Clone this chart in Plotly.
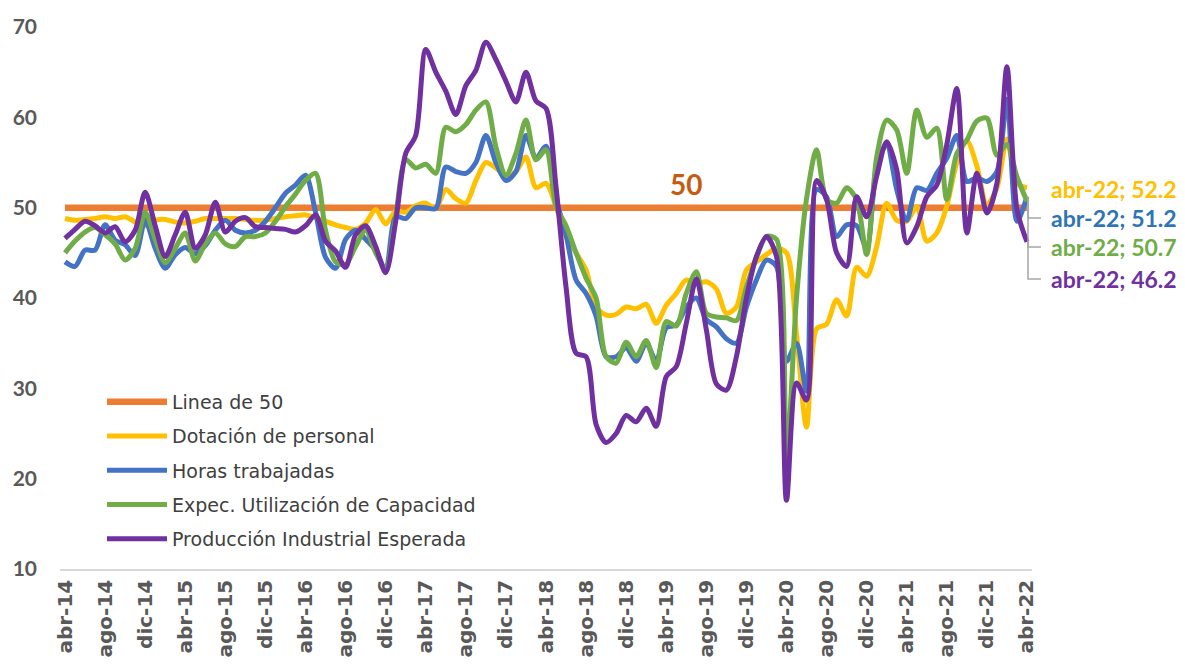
import plotly.graph_objects as go

# ---------------- data ----------------
month_abbr = ["abr", "may", "jun", "jul", "ago", "sep", "oct", "nov", "dic", "ene", "feb", "mar"]
months = []
for k in range(97):
    m = month_abbr[k % 12]
    yr = 14 + (k + 3) // 12
    months.append(f"{m}-{yr:02d}")

tick_labels = ["abr-14", "ago-14", "dic-14", "abr-15", "ago-15", "dic-15", "abr-16", "ago-16",
               "dic-16", "abr-17", "ago-17", "dic-17", "abr-18", "ago-18", "dic-18", "abr-19",
               "ago-19", "dic-19", "abr-20", "ago-20", "dic-20", "abr-21", "ago-21", "dic-21",
               "abr-22"]

linea_50 = [50] * 97

dotacion = [48.8, 48.6, 48.7, 48.8, 49.0, 48.8, 49.0, 48.4, 48.0, 48.6, 48.7, 48.4, 48.3,
            48.5, 48.8, 48.8, 48.8, 48.8, 48.7, 48.6, 48.6, 48.8, 49.0, 49.1, 49.2, 48.9,
            48.5, 48.1, 47.8, 47.6, 48.3, 49.8, 48.2, 49.6, 49.5, 50.2, 50.5, 49.9, 52.0,
            51.0, 50.5, 53.0, 55.0, 54.4, 53.5, 54.0, 55.6, 52.2, 52.7, 50.1, 46.8, 45.0,
            43.1, 39.0, 38.1, 38.2, 39.0, 38.8, 39.3, 37.2, 39.2, 40.5, 42.0, 41.6, 41.8,
            41.0, 38.3, 39.0, 43.1, 44.0, 44.8, 45.5, 45.0, 36.0, 25.7, 36.6, 37.1, 39.8,
            38.0, 43.4, 42.4, 45.7, 50.5, 48.6, 48.5, 50.1, 46.3, 47.2, 50.2, 55.0, 57.4,
            54.6, 50.3, 52.2, 57.6, 52.7, 52.2]

horas = [44.0, 43.5, 45.3, 45.3, 48.1, 46.4, 45.9, 44.7, 48.6, 45.5, 43.3, 44.8, 45.6,
         44.9, 45.8, 47.5, 48.6, 47.5, 47.2, 47.5, 48.5, 50.0, 51.6, 52.5, 53.6, 49.5,
         44.5, 43.3, 46.5, 47.5, 46.5, 45.3, 43.1, 49.0, 48.8, 50.0, 50.0, 49.9, 54.5,
         54.0, 53.8, 55.0, 58.0, 55.0, 53.0, 54.0, 58.0, 55.5, 56.8, 51.0, 47.0, 42.0,
         40.5, 38.0, 33.5, 33.5, 34.5, 33.0, 35.0, 33.0, 36.7, 37.0, 39.0, 40.0, 37.6,
         36.8, 35.5, 35.0, 39.0, 42.0, 44.2, 43.5, 33.0, 35.0, 29.7, 52.0, 51.2, 46.8,
         48.1, 48.0, 45.5, 54.5, 57.0, 52.0, 48.6, 52.2, 51.9, 53.8, 55.5, 58.0, 52.9,
         53.3, 52.9, 54.0, 62.0, 48.5, 51.2]

utilizacion = [45.0, 46.3, 47.3, 47.8, 47.0, 46.0, 44.2, 45.5, 49.5, 46.5, 43.9, 45.5, 47.2,
               44.1, 46.0, 47.2, 46.0, 45.7, 46.8, 46.8, 47.2, 48.5, 50.1, 51.5, 53.0, 53.8,
               47.5, 44.0, 43.7, 45.7, 47.5, 45.0, 43.3, 49.0, 55.3, 54.4, 54.8, 53.8, 58.9,
               58.4, 59.2, 60.8, 61.7, 56.7, 53.6, 56.0, 59.7, 55.3, 56.4, 50.1, 48.0, 45.0,
               42.2, 40.0, 33.5, 32.8, 35.1, 33.5, 35.3, 32.3, 37.4, 36.9, 40.5, 42.9, 38.3,
               37.9, 37.8, 37.5, 41.2, 44.5, 46.8, 46.5, 22.4, 40.0, 51.0, 56.4, 50.9, 50.5,
               52.2, 50.9, 44.8, 55.6, 59.7, 58.6, 53.8, 60.8, 57.8, 58.8, 50.9, 56.0, 57.5,
               59.6, 59.9, 55.8, 57.0, 53.4, 50.7]

produccion = [46.6, 47.6, 48.5, 48.0, 47.2, 47.9, 46.2, 47.5, 51.7, 48.0, 44.6, 47.0, 49.5,
              45.5, 47.0, 50.6, 47.3, 48.5, 48.9, 47.9, 47.8, 47.7, 47.6, 47.3, 48.0, 49.2,
              46.3, 45.2, 43.4, 47.0, 48.0, 45.7, 42.8, 48.5, 56.0, 58.0, 67.5, 65.0, 62.9,
              60.3, 63.5, 65.2, 68.3, 66.4, 64.0, 61.7, 65.0, 61.8, 61.0, 52.3, 41.2, 33.9,
              33.5, 26.0, 24.0, 25.0, 27.0, 26.3, 27.8, 25.8, 31.3, 32.4, 37.2, 42.1, 36.5,
              30.5, 29.8, 33.5, 40.0, 44.6, 46.8, 44.6, 17.6, 30.6, 28.7, 53.0, 50.9, 45.0,
              43.5, 51.2, 49.0, 53.5, 57.3, 54.2, 46.1, 47.9, 51.2, 52.5, 57.0, 63.2, 47.2,
              53.8, 49.4, 52.7, 65.6, 49.8, 46.2]

series = [
    ("Linea de 50", linea_50, "#ED7D31", 6.5),
    ("Dotación de personal", dotacion, "#FFC000", 5),
    ("Horas trabajadas", horas, "#4472C4", 5),
    ("Expec. Utilización de Capacidad", utilizacion, "#70AD47", 5),
    ("Producción Industrial Esperada", produccion, "#7030A0", 5),
]

# ---------------- figure ----------------
fig = go.Figure()
for i, (name, vals, col, w) in enumerate(series):
    fig.add_trace(go.Scatter(
        x=months, y=vals, name=name, mode="lines",
        line=dict(color=col, width=w, shape="linear" if i == 0 else "spline", smoothing=0.8),
        legendgroup=name, hoverinfo="skip",
    ))

# plot area geometry
L, R, T, B = 60, 153, 27, 100
W, H = 1185, 669
plot_h = H - T - B
y0, y1 = 10, 70

def ypaper(px):
    return (H - B - px) / plot_h

def xp(px):
    return (px - L) / (W - L - R)

# "50" label on the orange series
fig.add_annotation(x=months[62], y=linea_50[62], text=f"<b>{linea_50[62]}</b>",
                   showarrow=False, yshift=24, xref="x", yref="y",
                   font=dict(family="Lato", size=28, color="#C55A11"))

# end-point labels with leader lines
end_labels = [
    (dotacion, "#FFC000", 189),
    (horas, "#2E75B6", 218),
    (utilizacion, "#70AD47", 247),
    (produccion, "#7030A0", 279),
]
for vals, col, py in end_labels:
    fig.add_annotation(xref="paper", yref="paper", x=xp(1049), y=ypaper(py),
                       xanchor="left", yanchor="middle", showarrow=False,
                       text=f"<b>{months[-1]}; {vals[-1]}</b>",
                       font=dict(family="Lato", size=23, color=col))
for vals, col, py in end_labels[1:]:
    y_pt = (vals[-1] - y0) / (y1 - y0)
    fig.add_shape(type="path", xref="paper", yref="paper",
                  path=f"M {xp(1028)} {y_pt} L {xp(1028)} {ypaper(py)} L {xp(1041)} {ypaper(py)}",
                  line=dict(color="#A6A6A6", width=1.5))

fig.update_layout(
    width=W, height=H,
    margin=dict(l=L, r=R, t=T, b=B, pad=0, autoexpand=False),
    plot_bgcolor="white", paper_bgcolor="white",
    showlegend=True,
    legend=dict(x=xp(102), y=ypaper(383), xanchor="left", yanchor="top",
                traceorder="grouped", tracegroupgap=6.5, itemwidth=60,
                bgcolor="rgba(0,0,0,0)",
                font=dict(family="DejaVu Sans", size=19, color="#404040")),
    xaxis=dict(type="category", range=[-0.5, 96.5], tickmode="array",
               tickvals=tick_labels, ticktext=[f"<b>{t}</b>" for t in tick_labels],
               tickangle=-90, showgrid=False, zeroline=False, automargin=False,
               showline=True, linecolor="#D9D9D9", linewidth=1.5, ticks="",
               ticklabelstandoff=1,
               tickfont=dict(family="DejaVu Sans", size=20, color="#595959")),
    yaxis=dict(range=[y0, y1], tickvals=[10, 20, 30, 40, 50, 60, 70],
               ticktext=[f"<b>{v}</b>" for v in [10, 20, 30, 40, 50, 60, 70]],
               showgrid=False, zeroline=False, showline=False, ticks="", automargin=False,
               ticklabelstandoff=22,
               tickfont=dict(family="Lato", size=21, color="#595959")),
)

fig.write_html("out.html", config={"displayModeBar": False},
               post_script="document.body.style.margin='0';")
